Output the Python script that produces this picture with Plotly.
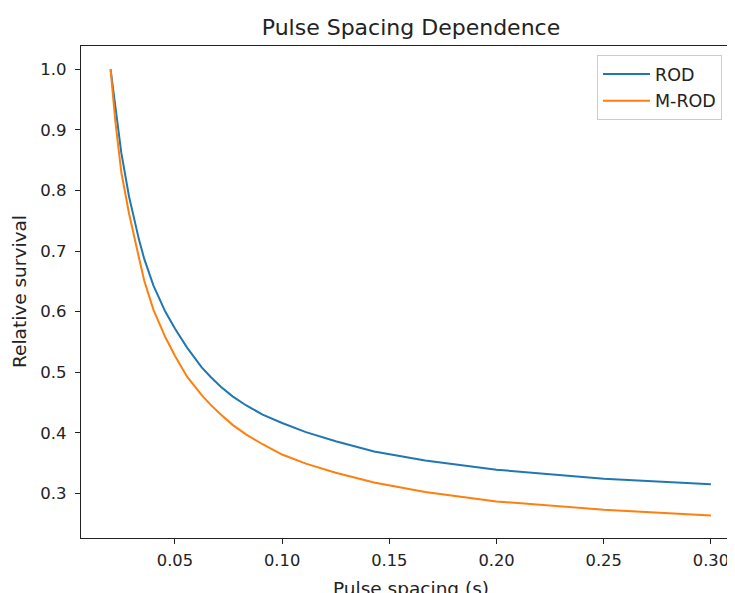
import plotly.graph_objects as go

# Pulse spacing (s)
pulse_spacing = [0.02, 0.0222, 0.025, 0.0286, 0.0333, 0.0357, 0.04, 0.0455, 0.05,
                 0.0556, 0.0625, 0.0667, 0.0714, 0.0769, 0.0833, 0.0909, 0.1,
                 0.1111, 0.125, 0.1429, 0.1667, 0.2, 0.25, 0.3]
rod = [1.000, 0.935, 0.862, 0.790, 0.718, 0.687, 0.643, 0.600, 0.572,
       0.541, 0.508, 0.492, 0.476, 0.460, 0.445, 0.430, 0.416,
       0.401, 0.386, 0.369, 0.354, 0.339, 0.324, 0.315]
m_rod = [1.000, 0.915, 0.830, 0.762, 0.688, 0.651, 0.603, 0.558, 0.527,
         0.493, 0.462, 0.446, 0.430, 0.413, 0.397, 0.381, 0.364,
         0.349, 0.334, 0.318, 0.302, 0.2865, 0.273, 0.2635]

x_ticks = [0.05, 0.10, 0.15, 0.20, 0.25, 0.30]
y_ticks = [0.3, 0.4, 0.5, 0.6, 0.7, 0.8, 0.9, 1.0]

FONT = "DejaVu Sans"
TXT = "#222222"

# page body adds an 8px offset; figure is sized to fill the window exactly
W, H = 727, 585
L, T, PB = 73, 38, 530  # plot-area left, top, bottom (figure px)

fig = go.Figure()
fig.add_trace(go.Scatter(x=pulse_spacing, y=rod, mode="lines", name="ROD",
                         legendgroup="a", line=dict(color="#1f77b4", width=2)))
fig.add_trace(go.Scatter(x=pulse_spacing, y=m_rod, mode="lines", name="M-ROD",
                         legendgroup="b", line=dict(color="#ff7f0e", width=2)))

PW = W - L
PH = PB - T
fig.update_layout(
    width=W, height=H,
    margin=dict(l=L, r=0, t=T, b=H - PB, autoexpand=False),
    paper_bgcolor="white", plot_bgcolor="white",
    font=dict(family=FONT, size=16, color=TXT),
    showlegend=True,
    legend=dict(x=(714 - L) / PW, y=(PB - 47) / PH, xanchor="right", yanchor="top",
                bordercolor="#cccccc", borderwidth=1, bgcolor="white",
                font=dict(family=FONT, size=17.5, color=TXT),
                itemwidth=47, tracegroupgap=1),
    title=dict(text="Pulse Spacing Dependence", x=(403 - L) / PW, xref="paper",
               xanchor="center", y=1 - 19 / H, yref="container", yanchor="middle",
               font=dict(family=FONT, size=22, color=TXT)),
    xaxis=dict(range=[0.0062, 0.0062 + PW / 2144], tickvals=x_ticks,
               ticktext=[f"{v:.2f}" for v in x_ticks],
               showgrid=False, zeroline=False, showline=True, linecolor="#222",
               linewidth=1.2, mirror=True, ticks="outside", ticklen=5,
               tickcolor="#222", tickfont=dict(size=16.3), automargin=False,
               ticklabelstandoff=2),
    yaxis=dict(range=[0.2262, 1.0385], tickvals=y_ticks,
               ticktext=[f"{v:.1f}" for v in y_ticks],
               showgrid=False, zeroline=False, showline=True, linecolor="#222",
               linewidth=1.2, ticks="outside", ticklen=5, tickcolor="#222",
               tickfont=dict(size=16.5), automargin=False, ticklabelstandoff=5),
    annotations=[
        dict(text="Pulse spacing (s)", xref="paper", yref="paper",
             x=(403 - L) / PW, y=(PB - 580) / PH, xanchor="center",
             yanchor="middle", showarrow=False, font=dict(size=18.5, color=TXT)),
        dict(text="Relative survival", xref="paper", yref="paper",
             x=(11 - L) / PW, y=0.5, xanchor="center", yanchor="middle",
             textangle=-90, showarrow=False, font=dict(size=18.5, color=TXT)),
    ],
)

fig.write_html("out.html")
